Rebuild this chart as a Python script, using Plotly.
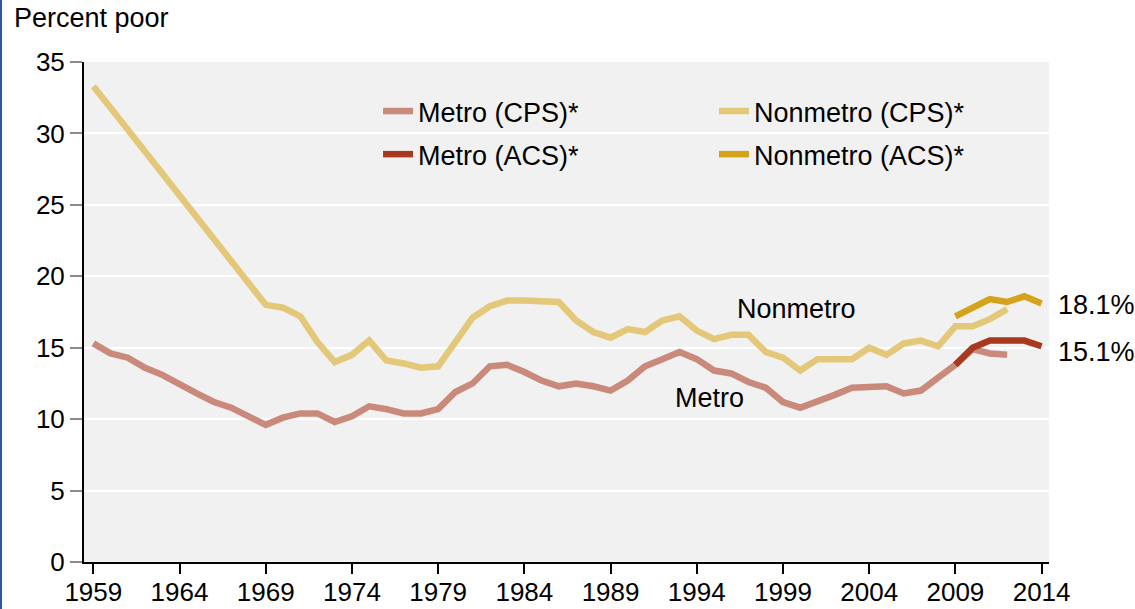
import plotly.graph_objects as go

# ---------------- data ----------------
years = list(range(1959, 2015))

metro_cps = [15.3, 14.6, 14.3, 13.6, 13.1, 12.4, 11.8, 11.2, 10.8, 10.2,
             9.6, 10.1, 10.4, 10.4, 9.8, 10.2, 10.9, 10.7, 10.4, 10.4,
             10.7, 11.9, 12.5, 13.7, 13.8, 13.3, 12.7, 12.3, 12.5, 12.3,
             12.0, 12.7, 13.7, 14.2, 14.7, 14.2, 13.4, 13.2, 12.6, 12.2,
             11.2, 10.8, 11.2, 11.7, 12.2, 12.3, 12.3, 11.8, 12.0, 12.9,
             13.8, 14.9, 14.6, 14.5, None, None]

nonmetro_cps = [33.3, 31.8, None, None, None, None, None, None, None, None,
                18.0, 17.8, 17.2, 15.4, 14.0, 14.5, 15.5, 14.1, 13.9, 13.6,
                13.7, 15.4, 17.1, 17.9, 18.3, 18.3, 18.3, 18.2, 16.9, 16.1,
                15.7, 16.3, 16.1, 16.9, 17.2, 16.2, 15.6, 15.9, 15.9, 14.7,
                14.3, 13.4, 14.2, 14.2, 14.2, 15.0, 14.5, 15.3, 15.5, 15.1,
                16.5, 16.5, 17.0, 17.7, None, None]

acs_years = [2009, 2010, 2011, 2012, 2013, 2014]
metro_acs = [13.8, 15.0, 15.5, 15.5, 15.5, 15.1]
nonmetro_acs = [17.2, 17.8, 18.4, 18.2, 18.6, 18.1]

tick_years = [1959, 1964, 1969, 1974, 1979, 1984, 1989, 1994, 1999, 2004, 2009, 2014]

# ---------------- style ----------------
FONT = "Liberation Sans, Arial, sans-serif"
C_METRO_CPS = "#C98A7B"
C_METRO_ACS = "#A8391F"
C_NON_CPS = "#E3C87A"
C_NON_ACS = "#D4A31A"
LW = 6.5

fig = go.Figure()

fig.add_trace(go.Scatter(x=years, y=metro_cps, mode="lines", name="Metro (CPS)*",
                         line=dict(color=C_METRO_CPS, width=LW), connectgaps=False,
                         legend="legend", legendgroup="a"))
fig.add_trace(go.Scatter(x=years, y=nonmetro_cps, mode="lines", name="Nonmetro (CPS)*",
                         line=dict(color=C_NON_CPS, width=LW), connectgaps=True,
                         legend="legend2", legendgroup="c"))
fig.add_trace(go.Scatter(x=acs_years, y=metro_acs, mode="lines", name="Metro (ACS)*",
                         line=dict(color=C_METRO_ACS, width=LW),
                         legend="legend", legendgroup="b"))
fig.add_trace(go.Scatter(x=acs_years, y=nonmetro_acs, mode="lines", name="Nonmetro (ACS)*",
                         line=dict(color=C_NON_ACS, width=LW),
                         legend="legend2", legendgroup="d"))

legend_common = dict(font=dict(family=FONT, size=27, color="#000"),
                     bgcolor="rgba(0,0,0,0)", borderwidth=0,
                     tracegroupgap=5, traceorder="grouped",
                     xanchor="left", yanchor="top")

fig.update_layout(
    width=1135, height=609,
    margin=dict(l=84, r=86, t=62, b=47, autoexpand=False),
    paper_bgcolor="white",
    plot_bgcolor="#F1F1F1",
    font=dict(family=FONT, size=26, color="#000"),
    showlegend=True,
    legend=dict(x=0.3047, y=0.950, **legend_common),
    legend2=dict(x=0.6528, y=0.950, **legend_common),
    xaxis=dict(range=[1958.46, 2014.43], tickvals=tick_years,
               showgrid=False, zeroline=False, automargin=False,
               showline=True, linecolor="#000", linewidth=2,
               ticks="outside", ticklen=10, tickwidth=2, tickcolor="#000",
               ticklabelstandoff=-4,
               tickfont=dict(family=FONT, size=26, color="#000")),
    yaxis=dict(range=[0, 35], dtick=5, tick0=0, automargin=False,
               showgrid=True, gridcolor="white", gridwidth=2, zeroline=False,
               showline=True, linecolor="#000", linewidth=2,
               ticks="outside", ticklen=12, tickwidth=2, tickcolor="#8C8C8C",
               tickfont=dict(family=FONT, size=26, color="#000")),
    annotations=[
        dict(text="Percent poor", xref="paper", yref="paper", x=-0.0746, y=1.088,
             xanchor="left", yanchor="middle", showarrow=False,
             font=dict(family=FONT, size=27, color="#000")),
        dict(text="Nonmetro", x=1999.76, y=17.73, xref="x", yref="y",
             xanchor="center", yanchor="middle", showarrow=False,
             font=dict(family=FONT, size=27, color="#000")),
        dict(text="Metro", x=1994.74, y=11.5, xref="x", yref="y",
             xanchor="center", yanchor="middle", showarrow=False,
             font=dict(family=FONT, size=27, color="#000")),
        dict(text="18.1%", x=2014, y=18.0, xref="x", yref="y", xshift=14,
             xanchor="left", yanchor="middle", showarrow=False,
             font=dict(family=FONT, size=27, color="#000")),
        dict(text="15.1%", x=2014, y=14.72, xref="x", yref="y", xshift=14,
             xanchor="left", yanchor="middle", showarrow=False,
             font=dict(family=FONT, size=27, color="#000")),
    ],
    shapes=[
        dict(type="line", xref="paper", yref="paper",
             x0=-0.0860, x1=-0.0860, y0=-0.1, y1=1.13,
             line=dict(color="#2A5A9E", width=2)),
    ],
)

fig.write_html("out.html", config={"displayModeBar": False},
               post_script="document.body.style.margin='0';")
